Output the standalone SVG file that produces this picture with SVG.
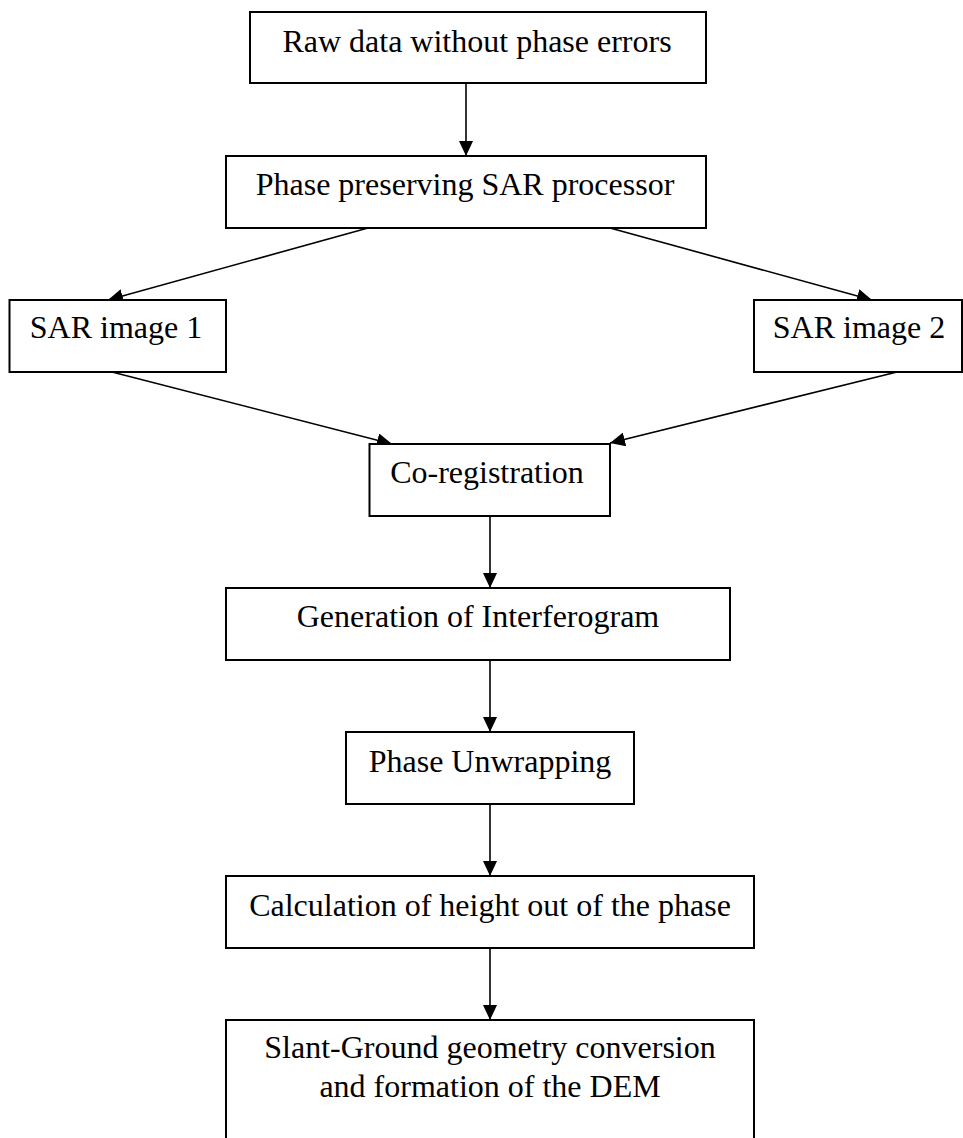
<svg xmlns="http://www.w3.org/2000/svg" width="963" height="1138" viewBox="0 0 963 1138">
  <style>
    .box { fill: #ffffff; stroke: #000000; stroke-width: 2; }
    .lbl { font-family: "Liberation Serif", "Times New Roman", serif; font-size: 32px; fill: #000000; text-anchor: middle; }
    .edge { fill: none; stroke: #000000; stroke-width: 1.6; marker-end: url(#head); }
  </style>
  <defs>
    <marker id="head" markerUnits="userSpaceOnUse" markerWidth="16" markerHeight="14" refX="15" refY="7" orient="auto">
      <path d="M0,0 L15,7 L0,14 Z" fill="#000000"/>
    </marker>
  </defs>
  <rect width="963" height="1138" fill="#ffffff"/>

  <g id="connectors">
    <line class="edge" x1="466" y1="83" x2="466" y2="156"/>
    <line class="edge" x1="368" y1="228" x2="108" y2="300"/>
    <line class="edge" x1="610" y1="228" x2="872" y2="300"/>
    <line class="edge" x1="112" y1="372" x2="392" y2="444"/>
    <line class="edge" x1="897" y1="372" x2="610" y2="443"/>
    <line class="edge" x1="490" y1="516" x2="490" y2="588"/>
    <line class="edge" x1="490" y1="660" x2="490" y2="732"/>
    <line class="edge" x1="490" y1="804" x2="490" y2="876"/>
    <line class="edge" x1="490" y1="948" x2="490" y2="1020"/>
  </g>

  <g id="raw-data">
    <rect class="box" x="250" y="12" width="456" height="71"/>
    <text class="lbl" x="477" y="52">Raw data without phase errors</text>
  </g>
  <g id="sar-processor">
    <rect class="box" x="226" y="156" width="480" height="72"/>
    <text class="lbl" x="465" y="195">Phase preserving SAR processor</text>
  </g>
  <g id="sar-image-1">
    <rect class="box" x="9.5" y="300" width="216.5" height="72"/>
    <text class="lbl" x="116" y="338">SAR image 1</text>
  </g>
  <g id="sar-image-2">
    <rect class="box" x="754" y="300" width="208" height="72"/>
    <text class="lbl" x="859" y="338">SAR image 2</text>
  </g>
  <g id="co-registration">
    <rect class="box" x="369.5" y="444" width="240.5" height="72"/>
    <text class="lbl" x="487" y="483">Co-registration</text>
  </g>
  <g id="interferogram">
    <rect class="box" x="226" y="588" width="504" height="72"/>
    <text class="lbl" x="478" y="627">Generation of Interferogram</text>
  </g>
  <g id="phase-unwrapping">
    <rect class="box" x="346" y="732" width="288" height="72"/>
    <text class="lbl" x="490" y="772">Phase Unwrapping</text>
  </g>
  <g id="height-calculation">
    <rect class="box" x="226" y="876" width="528" height="72"/>
    <text class="lbl" x="490" y="916">Calculation of height out of the phase</text>
  </g>
  <g id="dem-formation">
    <rect class="box" x="226" y="1020" width="528" height="130"/>
    <text class="lbl" x="490" y="1058">Slant-Ground geometry conversion</text>
    <text class="lbl" x="490" y="1097">and formation of the DEM</text>
  </g>
</svg>
